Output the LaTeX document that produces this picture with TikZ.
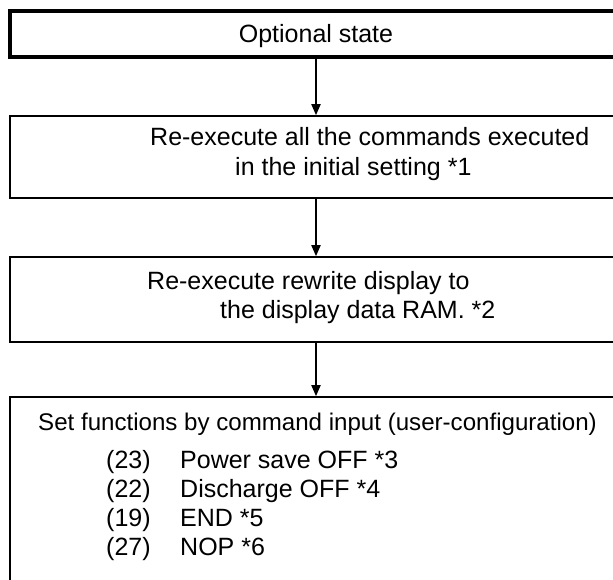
\documentclass[tikz,border=0pt]{standalone}
\usepackage{fontspec}
\setmainfont{Liberation Sans}
\usepackage{tikz}
\usetikzlibrary{arrows.meta}

\begin{document}
\begin{tikzpicture}[x=1pt,y=-1pt,
  stepbox/.style={draw,line width=1.6pt,minimum width=612pt,inner sep=0pt},
  txt/.style={anchor=base west,inner sep=0pt,font=\fontsize{25}{28}\selectfont},
  arr/.style={line width=1.8pt,-{Triangle[length=11pt,width=9pt]}}]
\clip (0,0) rectangle (613,580);
\node[stepbox,line width=4pt,minimum height=46pt](start) at (316,34) {};
\node[txt,anchor=base](startT) at (316,43) {Optional state};

\node[stepbox,minimum height=82pt](redo) at (316,157) {};
\node[txt](redoA) at (150,146) {Re-execute all the commands executed};
\node[txt](redoB) at (235,176) {in the initial setting *1};

\node[stepbox,minimum height=85pt](ram) at (316,299.5) {};
\node[txt](ramA) at (147,289) {Re-execute rewrite display to};
\node[txt](ramB) at (220,318) {the display data RAM. *2};

\node[stepbox,minimum height=200pt](user) at (316,497) {};
\node[txt,font=\fontsize{24.1}{28}\selectfont](userT) at (38,430) {Set functions by command input (user-configuration)};
\node[txt](n23) at (106,468) {(23)};
\node[txt](n22) at (106,497) {(22)};
\node[txt](n19) at (106,526) {(19)};
\node[txt](n27) at (106,555) {(27)};
\node[txt](c23) at (180,468) {Power save OFF *3};
\node[txt](c22) at (180,497) {Discharge OFF *4};
\node[txt](c19) at (180,526) {END *5};
\node[txt](c27) at (180,555) {NOP *6};

\draw[arr](start.south)--(redo.north);
\draw[arr](redo.south)--(ram.north);
\draw[arr](ram.south)--(user.north);
\end{tikzpicture}
\end{document}
